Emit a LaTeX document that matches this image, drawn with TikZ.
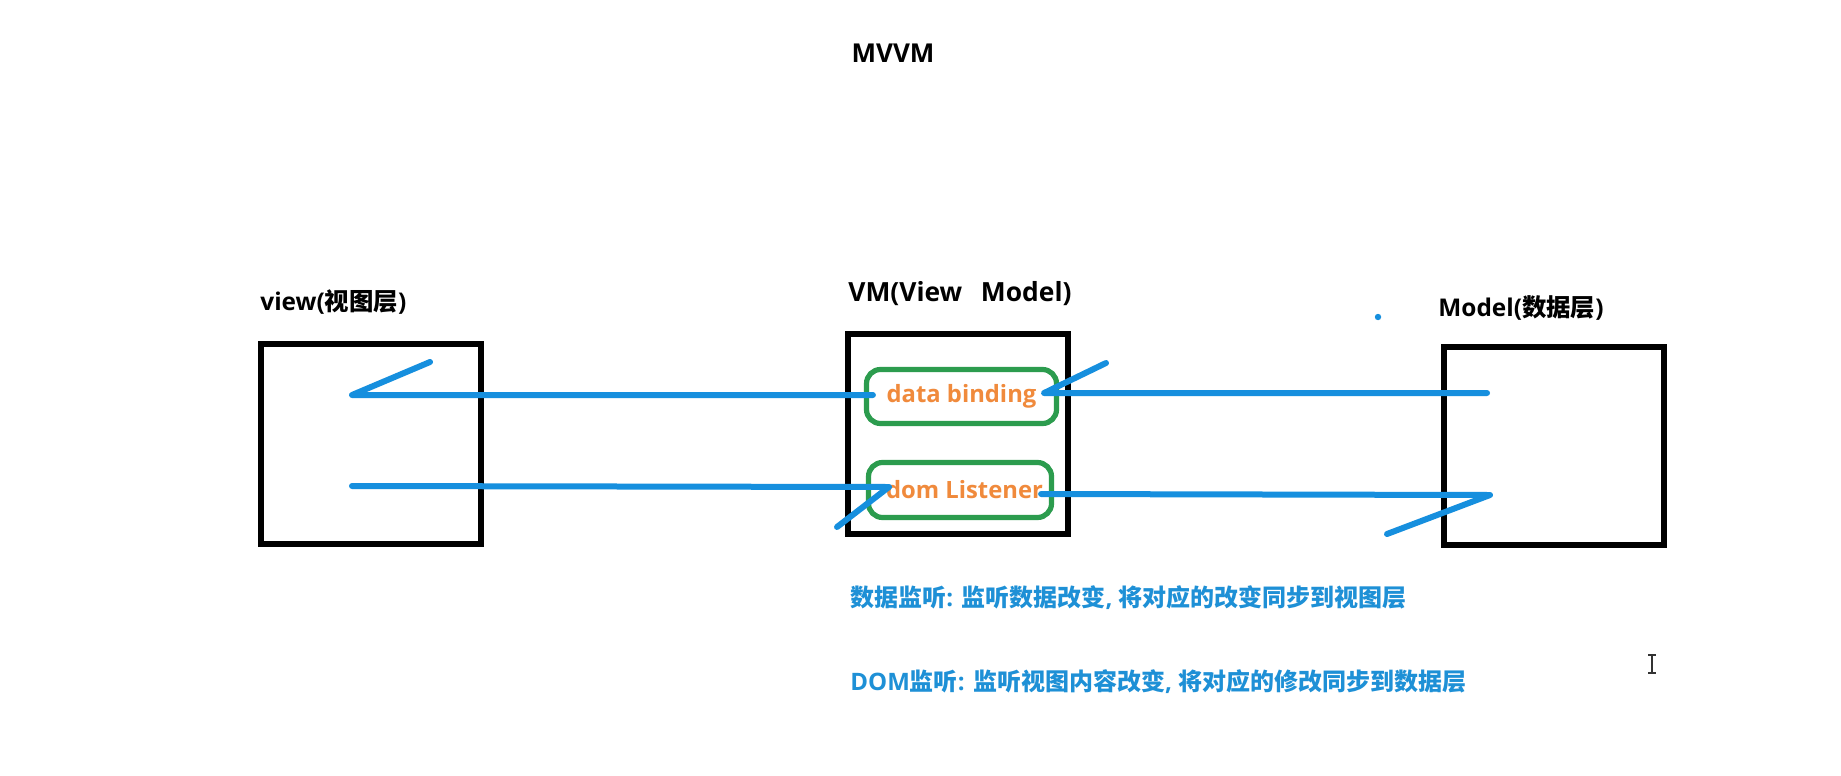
\documentclass[tikz,border=0pt]{standalone}
\usepackage{fontspec}
\setmainfont{Open Sans}
\newfontfamily\cjk{Noto Sans CJK SC}
\usetikzlibrary{calc}
\definecolor{lineblue}{RGB}{22,143,222}
\definecolor{textblue}{RGB}{30,144,214}
\definecolor{boxgreen}{RGB}{44,156,78}
\definecolor{txtorange}{RGB}{240,138,60}
\tikzset{
  px/.style={x=0.5pt,y=-0.5pt},
  layerbox/.style={draw=black,line width=3pt,minimum width=110pt,minimum height=100pt,inner sep=0pt},
  bindbox/.style={draw=boxgreen,line width=2.6pt,rounded corners=7pt,inner sep=0pt,text=txtorange,font=\bfseries\fontsize{11.9pt}{13pt}\selectfont},
  title/.style={font=\bfseries\fontsize{12.2pt}{14pt}\selectfont,inner sep=0pt},
  note/.style={font=\bfseries\fontsize{12pt}{14pt}\selectfont,text=textblue,inner sep=0pt,anchor=west},
  blueline/.style={draw=lineblue,line width=3pt,line cap=round,line join=round}
}
\begin{document}
\begin{tikzpicture}[px]
\useasboundingbox[fill=white] (0,0) rectangle (1841,776);
% title
\node[title,font=\bfseries\fontsize{13pt}{15pt}\selectfont] (t) at (893,53) {MVVM};
% layer boxes
\node[layerbox] (view) at (371,444) {};
\node[layerbox] (vm) at (958,434) {};
\node[layerbox,minimum height=99pt] (model) at (1554,446) {};
% labels
\node[title,anchor=west] (viewl) at (260,302) {view({\cjk 视图层})};
\node[title,anchor=west,font=\bfseries\fontsize{13.2pt}{15pt}\selectfont] (vml) at (848,294) {VM(View\ \ \hspace{2.5pt}Model)};
\node[title,anchor=west] (modell) at (1438,308) {Model({\cjk 数据层})};
% inner boxes
\node[bindbox,minimum width=95pt,minimum height=27pt] (db) at (961.5,396.5) {data binding\hspace{5.5pt}};
\node[bindbox,minimum width=91.5pt,minimum height=27.5pt] (dl) at (960,490) {\hspace{4.5pt}dom Listener};
% free ends
\coordinate (v1) at (352,395);
\coordinate (v1t) at (430,362);
\coordinate (v2) at (352,486);
\coordinate (m1) at (1487,393);
\coordinate (dbt) at (1106,363);
\coordinate (m2) at (1490,495);
\coordinate (m2t) at (1387,534);
\coordinate (dlt) at (837,527);
% connectors
\draw[blueline] (v1t) -- (v1) -- ($(db.west)+(9,-1.5)$);
\draw[blueline] (m1) -- ($(db.east)+(-15,-3.5)$) -- (dbt);
\draw[blueline] (v2) -- ($(dl.west)+(23,-3)$) -- (dlt);
\draw[blueline] ($(dl.east)+(-13,4)$) -- (m2) -- (m2t);
% stray dot
\fill[lineblue] (1378,317) circle (1.6pt);
% notes
\node[note] (n1) at (850,598) {{\cjk 数据监听}: {\cjk 监听数据改变}, {\cjk 将对应的改变同步到视图层}};
\node[note] (n2) at (850,682) {DOM{\cjk 监听}: {\cjk 监听视图内容改变}, {\cjk 将对应的修改同步到数据层}};
% text cursor
\draw[black!80,line width=0.7pt] (1652,655) -- (1652,673) (1648,655) -- (1656,655) (1648,673) -- (1656,673);
\end{tikzpicture}
\end{document}
